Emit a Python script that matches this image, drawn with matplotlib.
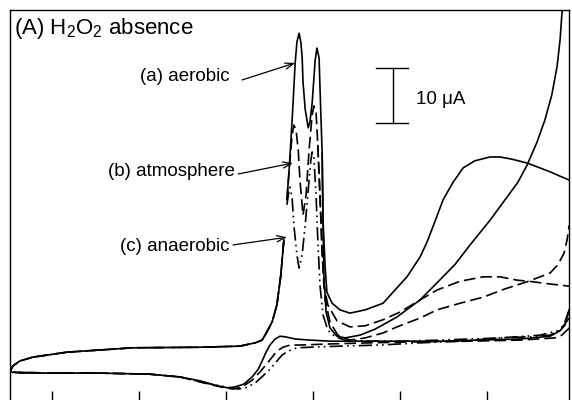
import matplotlib
matplotlib.use("Agg")
import matplotlib.pyplot as plt

plt.rcParams['font.family'] = ['Liberation Sans', 'DejaVu Sans']
plt.rcParams['mathtext.default'] = 'regular'

# potential (V) and current (uA)
# shared forward baseline and start of the oxidation wave
base_E = [-0.697, -0.690, -0.674, -0.644, -0.566, -0.414, -0.260, -0.168, -0.133,
          -0.117, -0.106, -0.094, -0.083, -0.074, -0.067]
base_I = [0.0, 1.1, 2.0, 2.7, 3.6, 4.4, 4.5, 4.7, 5.3, 5.8, 7.3, 9.1, 12.2, 17.6, 24.0]

# (a) aerobic
a_fwd_E = [-0.060, -0.055, -0.048, -0.041, -0.037, -0.032, -0.028, -0.025, -0.023, -0.018,
           -0.011, -0.007, -0.002, 0.005, 0.009, 0.014, 0.016, 0.021, 0.023, 0.028, 0.032,
           0.044, 0.062, 0.085, 0.120, 0.161, 0.193, 0.216, 0.246, 0.262, 0.280, 0.299,
           0.322, 0.345, 0.372, 0.407, 0.430, 0.457, 0.492, 0.522, 0.545, 0.568, 0.589]
a_fwd_I = [31.3, 36.7, 45.8, 56.2, 60.0, 61.6, 60.0, 57.3, 52.7, 47.8, 44.4, 45.5, 48.9,
           56.7, 58.9, 57.1, 51.8, 39.8, 27.6, 18.9, 14.5, 12.5, 11.3, 10.7, 11.3, 12.5,
           15.3, 17.3, 20.9, 23.6, 27.3, 31.3, 34.5, 37.1, 38.4, 39.1, 39.1, 38.7, 38.0,
           37.1, 36.4, 35.6, 34.9]
a_up_E = [0.021, 0.023, 0.025, 0.030, 0.039, 0.055, 0.074, 0.108, 0.143, 0.193, 0.246,
          0.285, 0.327, 0.361, 0.407, 0.446, 0.471, 0.492, 0.515, 0.533, 0.549, 0.561,
          0.568, 0.572, 0.577]
a_up_I = [39.8, 27.6, 17.6, 10.9, 8.0, 6.5, 6.2, 6.7, 7.8, 10.0, 13.1, 16.2, 19.6, 23.1,
          27.6, 31.8, 34.5, 37.6, 41.8, 45.8, 50.4, 55.5, 60.4, 64.9, 69.5]
a_rev_E = [0.589, 0.579, 0.568, 0.545, 0.476, 0.384, 0.292, 0.200, 0.108, 0.039, -0.007,
           -0.041, -0.064, -0.076, -0.087, -0.099, -0.108, -0.117, -0.126, -0.140, -0.159,
           -0.179, -0.195, -0.225, -0.260, -0.306, -0.375, -0.490, -0.605, -0.674, -0.697]
a_rev_I = [11.3, 8.5, 7.5, 6.5, 6.0, 5.8, 5.6, 5.6, 5.6, 5.6, 5.8, 6.0, 6.4, 6.5, 6.0,
           4.9, 3.6, 2.0, 0.5, -0.9, -2.2, -2.7, -2.9, -2.4, -1.6, -0.9, -0.4, -0.2,
           -0.2, -0.2, 0.0]

# (b) atmosphere
b_fwd_E = [-0.060, -0.053, -0.048, -0.044, -0.039, -0.034, -0.030, -0.023, -0.016, -0.009,
           -0.002, 0.002, 0.007, 0.011, 0.016, 0.021, 0.025, 0.034, 0.055, 0.085, 0.120,
           0.161, 0.200, 0.246, 0.285, 0.338, 0.391, 0.430, 0.469, 0.506, 0.545, 0.589]
b_fwd_I = [31.3, 38.5, 43.1, 44.9, 44.0, 40.4, 34.9, 28.5, 32.2, 40.4, 46.7, 48.4, 47.3,
           41.3, 32.2, 22.2, 15.8, 12.2, 9.3, 8.2, 8.4, 9.5, 10.9, 13.1, 14.9, 16.5, 17.3,
           17.3, 16.7, 16.4, 16.0, 15.6]
b_up_E = [0.011, 0.016, 0.021, 0.028, 0.039, 0.057, 0.085, 0.120, 0.161, 0.193, 0.246,
          0.285, 0.338, 0.391, 0.441, 0.492, 0.522, 0.545, 0.563, 0.577, 0.584, 0.589]
b_up_I = [41.3, 32.2, 21.3, 13.1, 9.1, 6.7, 5.8, 6.2, 7.1, 8.2, 9.8, 11.3, 12.5, 13.6,
          15.1, 16.4, 17.3, 18.0, 19.5, 21.6, 24.0, 26.7]
b_rev_E = [0.589, 0.572, 0.556, 0.476, 0.361, 0.246, 0.131, 0.039, -0.030, -0.053, -0.069,
           -0.083, -0.094, -0.106, -0.122, -0.140, -0.163, -0.184, -0.214, -0.260, -0.306,
           -0.375, -0.490, -0.605, -0.697]
b_rev_I = [8.0, 6.7, 6.2, 5.8, 5.6, 5.5, 5.3, 5.1, 4.9, 4.9, 4.5, 3.8, 2.7, 1.5, 0.0,
           -1.5, -2.7, -3.1, -2.7, -1.8, -0.9, -0.4, -0.2, -0.2, 0.0]

# (c) anaerobic
c_fwd_E = [-0.060, -0.055, -0.053, -0.048, -0.044, -0.037, -0.032, -0.025, -0.018, -0.011,
           -0.005, -0.002, 0.002, 0.007, 0.011, 0.016, 0.023, 0.034, 0.051, 0.074, 0.131,
           0.200, 0.292, 0.361, 0.430, 0.499, 0.545, 0.568, 0.579, 0.589]
c_fwd_I = [30.4, 33.1, 33.6, 31.6, 26.7, 21.3, 18.9, 21.3, 26.7, 33.1, 38.5, 40.0, 38.9,
           32.2, 24.0, 15.8, 10.4, 7.6, 6.4, 5.8, 5.6, 5.6, 5.8, 6.0, 6.2, 6.4, 6.7, 7.6,
           9.1, 11.3]
c_rev_E = [0.589, 0.568, 0.522, 0.430, 0.338, 0.246, 0.154, 0.062, -0.007, -0.037, -0.057,
           -0.071, -0.085, -0.099, -0.115, -0.133, -0.156, -0.172, -0.202, -0.260, -0.306,
           -0.375, -0.490, -0.605, -0.697]
c_rev_I = [9.8, 7.6, 6.7, 6.2, 5.6, 5.3, 4.9, 4.7, 4.5, 4.4, 3.8, 3.1, 1.8, 0.5, -0.7,
           -2.0, -2.9, -3.1, -2.7, -1.8, -0.9, -0.4, -0.2, -0.2, 0.0]

tick_E = [-0.6, -0.4, -0.2, 0.0, 0.2, 0.4]

fig = plt.figure(figsize=(5.72, 4.0), dpi=100)
ax = fig.add_axes([10 / 572, -4 / 400, 559 / 572, 394 / 400])

lw = 1.2
solid = dict(color='black', lw=lw, ls='-')
dashed = dict(color='black', lw=lw, ls=(0, (7, 3)))
dashdot = dict(color='black', lw=lw, ls=(0, (8, 2.5, 1, 2.5, 1, 2.5)))

for st in (solid, dashed, dashdot):
    ax.plot(base_E, base_I, **st)

ax.plot(a_fwd_E, a_fwd_I, **solid)
ax.plot(a_up_E, a_up_I, **solid)
ax.plot(a_rev_E, a_rev_I, **solid)

ax.plot(b_fwd_E, b_fwd_I, **dashed)
ax.plot(b_up_E, b_up_I, **dashed)
ax.plot(b_rev_E, b_rev_I, **dashed)

ax.plot(c_fwd_E, c_fwd_I, **dashdot)
ax.plot(c_rev_E, c_rev_I, **dashdot)

# 10 uA scale bar
ax.plot([0.184, 0.184], [45.3, 55.3], color='black', lw=1)
ax.plot([0.145, 0.218], [55.3, 55.3], color='black', lw=1)
ax.plot([0.145, 0.218], [45.3, 45.3], color='black', lw=1)
ax.text(0.237, 49.6, '10 \u03bcA', fontsize=13.5, va='center', ha='left')

# curve labels with arrows
arrow = dict(arrowstyle='->,head_length=0.6,head_width=0.22', lw=0.9, color='black',
             shrinkA=0, shrinkB=0)
ax.text(-0.191, 53.8, '(a) aerobic', fontsize=13.5, ha='right', va='center')
ax.annotate('', xy=(-0.041, 56.2), xytext=(-0.163, 53.1), arrowprops=arrow)
ax.text(-0.179, 36.4, '(b) atmosphere', fontsize=13.5, ha='right', va='center')
ax.annotate('', xy=(-0.046, 38.0), xytext=(-0.172, 36.0), arrowprops=arrow)
ax.text(-0.193, 22.9, '(c) anaerobic', fontsize=13.5, ha='right', va='center')
ax.annotate('', xy=(-0.060, 24.5), xytext=(-0.184, 23.1), arrowprops=arrow)

ax.text(0.007, 0.952, '(A) H$_2$O$_2$ absence', transform=ax.transAxes,
        fontsize=16, ha='left', va='center')

ax.set_xlim(-0.6966, 0.5885)
ax.set_ylim(-5.82, 65.82)
ax.set_xticks(tick_E)
ax.set_xticklabels([])
ax.set_yticks([])
ax.tick_params(axis='x', direction='in', length=9.5, width=1)
for sp in ax.spines.values():
    sp.set_linewidth(1)

fig.savefig('out.png', dpi=100)
